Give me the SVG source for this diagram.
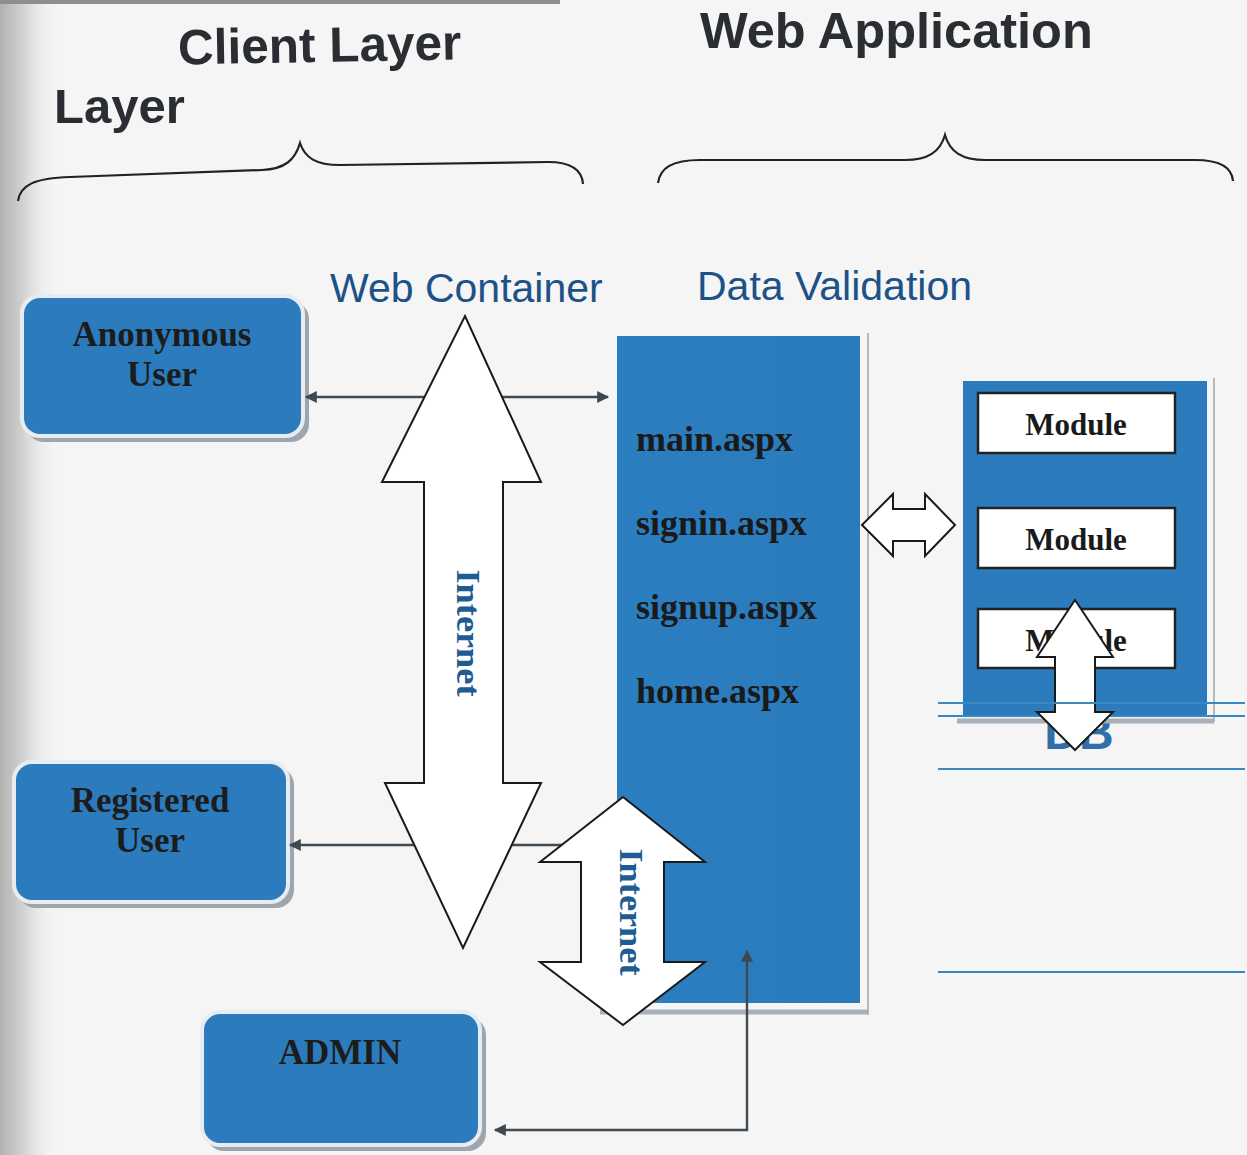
<svg xmlns="http://www.w3.org/2000/svg" width="1247" height="1155" viewBox="0 0 1247 1155">
  <defs>
    <style>
      .title { font-family: "Liberation Sans", Arial, sans-serif; font-weight: bold; fill: #2a2e33; }
      .sub { font-family: "Liberation Sans", Arial, sans-serif; fill: #1d5288; font-size: 41px; }
      .box { fill: #2c7cbd; stroke: #e6ecf1; stroke-width: 4; }
      .shadow { fill: #9ea6ad; }
      .boxlabel { font-family: "Liberation Serif", "Times New Roman", serif; font-weight: bold; font-size: 35px; fill: #1c1c1c; text-anchor: middle; }
      .page { font-family: "Liberation Serif", "Times New Roman", serif; font-weight: bold; font-size: 36px; fill: #1a1a1a; }
      .module { fill: #ffffff; stroke: #222; stroke-width: 2.5; }
      .modlabel { font-family: "Liberation Serif", "Times New Roman", serif; font-weight: bold; font-size: 31px; fill: #1a1a1a; text-anchor: middle; }
      .bigarrow { fill: #ffffff; stroke: #1a1a1a; stroke-width: 2; stroke-linejoin: miter; }
      .net { font-family: "Liberation Serif", "Times New Roman", serif; font-weight: bold; font-size: 34px; fill: #1f5c93; text-anchor: middle; }
      .brace { fill: none; stroke: #222; stroke-width: 2.2; }
      .conn { fill: none; stroke: #3f4a53; stroke-width: 2.4; }
      .rule { stroke: #3a87c2; stroke-width: 2.2; }
      .edge { stroke: #9aa3ab; stroke-width: 1.5; }
      .ledge { stroke: #a9b0b7; stroke-width: 5; }
    </style>
    <marker id="arr" viewBox="0 0 10 10" refX="9" refY="5" markerWidth="13" markerHeight="12" orient="auto-start-reverse" markerUnits="userSpaceOnUse">
      <path d="M0,0 L10,5 L0,10 z" fill="#3d4850"/>
    </marker>
    <linearGradient id="binding" x1="0" y1="0" x2="1" y2="0">
      <stop offset="0" stop-color="#9a9a9a" stop-opacity="0.75"/>
      <stop offset="0.35" stop-color="#b5b5b5" stop-opacity="0.6"/>
      <stop offset="1" stop-color="#f2f2f2" stop-opacity="0"/>
    </linearGradient>
    <linearGradient id="panelfill" x1="0" y1="0" x2="1" y2="0">
      <stop offset="0" stop-color="#2b7ec0"/>
      <stop offset="1" stop-color="#2a7bbb"/>
    </linearGradient>
  </defs>

  <!-- paper -->
  <rect x="0" y="0" width="1247" height="1155" fill="#f5f5f5"/>
  <rect x="0" y="0" width="60" height="1155" fill="url(#binding)"/>
  <line x1="0" y1="2" x2="560" y2="2" stroke="#8a8f94" stroke-width="4"/>

  <!-- headings -->
  <g id="heading-client">
    <text class="title" x="178" y="62" font-size="49.5" transform="rotate(-1 320 45)">Client Layer</text>
    <text class="title" x="54" y="123" font-size="49">Layer</text>
    <path class="brace" d="M18,201 C20,185 35,178 70,177 L262,170 C285,169 295,160 300,143 C305,158 316,165 340,165 L548,162 C572,162 582,170 583,184"/>
  </g>
  <g id="heading-webapp">
    <text class="title" x="700" y="48" font-size="50.5">Web Application</text>
    <path class="brace" d="M658,183 C660,168 672,160 700,160 L905,160 C928,160 940,152 945,135 C950,152 962,160 985,160 L1195,160 C1220,160 1232,168 1233,181"/>
  </g>
  <text class="sub" x="330" y="302">Web Container</text>
  <text class="sub" x="697" y="300" font-size="41.5">Data Validation</text>

  <!-- horizontal rules on the right -->
  <g id="rules">
    <line class="rule" x1="938" y1="769" x2="1245" y2="769"/>
    <line class="rule" x1="938" y1="972" x2="1245" y2="972"/>
  </g>

  <!-- DB label, partly covered by the module panel -->
  <text id="db" x="1079" y="749" font-family="Liberation Sans, Arial, sans-serif" font-weight="bold" font-size="48" fill="#2f6ea7" text-anchor="middle">DB</text>

  <!-- module panel -->
  <g id="module-panel">
    <line class="edge" x1="1214" y1="378" x2="1214" y2="722"/>
    <line class="ledge" x1="957" y1="721" x2="1214" y2="721"/>
    <rect x="963" y="381" width="244" height="335" fill="#2c7cbd"/>
    <g id="module-1">
      <rect class="module" x="978" y="393" width="197" height="60"/>
      <text class="modlabel" x="1076" y="435">Module</text>
    </g>
    <g id="module-2">
      <rect class="module" x="978" y="508" width="197" height="60"/>
      <text class="modlabel" x="1076" y="550">Module</text>
    </g>
    <g id="module-3">
      <rect class="module" x="978" y="609" width="197" height="59"/>
      <text class="modlabel" x="1076" y="651">Module</text>
    </g>
  </g>
  <line class="rule" x1="938" y1="716" x2="1245" y2="716"/>

  <!-- web pages panel -->
  <g id="pages-panel">
    <line class="edge" x1="868" y1="333" x2="868" y2="1015"/>
    <line class="ledge" x1="600" y1="1012" x2="868" y2="1012"/>
    <rect x="617" y="336" width="243" height="667" fill="url(#panelfill)"/>
    <text class="page" x="636" y="451">main.aspx</text>
    <text class="page" x="636" y="535">signin.aspx</text>
    <text class="page" x="636" y="619">signup.aspx</text>
    <text class="page" x="636" y="703">home.aspx</text>
  </g>

  <!-- client nodes -->
  <g id="anonymous-user">
    <rect class="shadow" x="26" y="301" width="283" height="141" rx="18"/>
    <rect class="box" x="22" y="296" width="281" height="140" rx="18"/>
    <text class="boxlabel" x="162" y="346">Anonymous</text>
    <text class="boxlabel" x="162" y="386">User</text>
  </g>
  <g id="registered-user">
    <rect class="shadow" x="18" y="767" width="276" height="141" rx="18"/>
    <rect class="box" x="14" y="762" width="274" height="140" rx="18"/>
    <text class="boxlabel" x="150" y="812">Registered</text>
    <text class="boxlabel" x="150" y="852">User</text>
  </g>
  <g id="admin">
    <rect class="shadow" x="206" y="1017" width="280" height="134" rx="18"/>
    <rect class="box" x="202" y="1012" width="278" height="133" rx="18"/>
    <text class="boxlabel" x="340" y="1064">ADMIN</text>
  </g>

  <!-- connectors -->
  <g id="connectors">
    <line class="conn" x1="306" y1="397" x2="608" y2="397" marker-start="url(#arr)" marker-end="url(#arr)"/>
    <line class="conn" x1="290" y1="845" x2="580" y2="845" marker-start="url(#arr)"/>
    <polyline class="conn" points="747,951 747,1130 495,1130" marker-start="url(#arr)" marker-end="url(#arr)"/>
  </g>

  <!-- block arrows -->
  <g id="internet-main">
    <polygon class="bigarrow" points="465,316 541,482 503,482 503,783 541,783 463,948 385,783 424,783 424,482 382,482"/>
    <text class="net" transform="translate(457 633) rotate(90)" textLength="127" lengthAdjust="spacingAndGlyphs">Internet</text>
  </g>
  <g id="internet-admin">
    <polygon class="bigarrow" points="623,797 705,862 664,862 664,962 705,962 623,1025 540,962 581,962 581,862 540,862"/>
    <text class="net" transform="translate(620 912) rotate(90)" textLength="127" lengthAdjust="spacingAndGlyphs">Internet</text>
  </g>
  <g id="pages-modules-link">
    <polygon class="bigarrow" points="862,525 893,494 893,509 925,509 925,494 955,525 925,556 925,541 893,541 893,556"/>
  </g>
  <g id="module-db-link">
    <polygon class="bigarrow" points="1075,600 1113,657 1095,657 1095,712 1113,712 1075,750 1037,712 1055,712 1055,657 1037,657"/>
  </g>
  <!-- upper rule crosses the module/DB arrow shaft -->
  <line class="rule" x1="938" y1="703" x2="1245" y2="703"/>
</svg>
